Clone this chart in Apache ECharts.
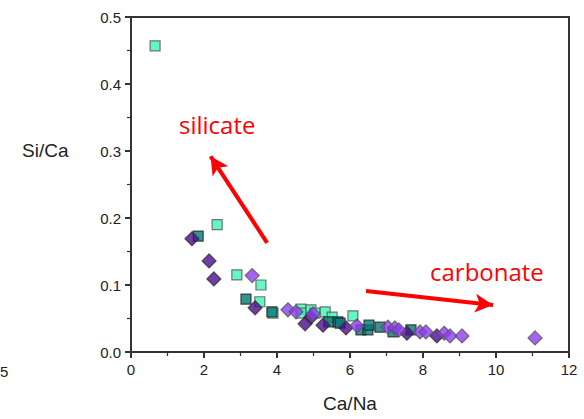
<!DOCTYPE html>
<html>
<head>
<meta charset="utf-8">
<script src="https://cdn.jsdelivr.net/npm/echarts@6/dist/echarts.min.js"></script>
<style>
  html, body { margin: 0; padding: 0; background: #fff; }
  #chart { width: 584px; height: 419px; }
</style>
</head>
<body>
<div id="chart"></div>
<script>
// ── data ────────────────────────────────────────────────────────────
const xTicks = [0, 2, 4, 6, 8, 10, 12];
const yTicks = [0.0, 0.1, 0.2, 0.3, 0.4, 0.5];

// light green squares
const greenSquares = [
  [0.66, 0.457], [2.36, 0.190], [2.90, 0.115], [3.56, 0.100], [3.53, 0.075],
  [3.89, 0.058], [4.66, 0.064], [4.66, 0.058], [4.93, 0.063], [5.04, 0.058],
  [5.32, 0.060], [5.51, 0.052], [6.08, 0.054]
];
// dark teal squares
const tealSquares = [
  [1.84, 0.173], [3.15, 0.079], [3.86, 0.060], [5.42, 0.045], [5.67, 0.045],
  [5.73, 0.043], [6.30, 0.033], [6.49, 0.033], [6.52, 0.040], [6.82, 0.037],
  [7.18, 0.030], [7.67, 0.033]
];
// dark purple diamonds
const darkDiamonds = [
  [1.67, 0.169], [2.14, 0.136], [2.27, 0.109], [3.40, 0.066], [4.77, 0.042],
  [4.93, 0.052], [5.26, 0.040], [5.89, 0.036], [7.56, 0.028], [8.38, 0.024]
];
// medium purple diamonds
const lightDiamonds = [
  [3.32, 0.114], [4.30, 0.063], [4.52, 0.060], [4.99, 0.057], [6.19, 0.039],
  [7.04, 0.037], [7.23, 0.036], [7.34, 0.033], [7.92, 0.030], [8.08, 0.030],
  [8.58, 0.028], [8.74, 0.024], [9.07, 0.024], [11.07, 0.021]
];

// annotation arrows (data space)
const silicateArrow = [[3.73, 0.163], [2.18, 0.292]];
const carbonateArrow = [[6.44, 0.091], [9.92, 0.070]];

// ── chart ──────────────────────────────────────────────────────────
const chart = echarts.init(document.getElementById('chart'), null, { renderer: 'svg' });

const FONT = '"Liberation Sans", Arial, sans-serif';
const LINE = '#333';   // frame / axis colour

function scatter(name, data, symbol, size, fill, border) {
  return {
    name, type: 'scatter', data, symbol, symbolSize: size,
    itemStyle: { color: fill, borderColor: border, borderWidth: 1.2 }
  };
}

// arrows ride on the last scatter series as a markLine
const arrows = {
  silent: true, animation: false,
  symbol: ['none', 'arrow'], symbolSize: [14, 18],
  label: { show: false },
  lineStyle: { color: '#ff0000', width: 4, type: 'solid' },
  data: [
    [{ coord: silicateArrow[0] }, { coord: silicateArrow[1] }],
    [{ coord: carbonateArrow[0] }, { coord: carbonateArrow[1] }]
  ]
};

function axis(range, extra) {
  return Object.assign({
    type: 'value', min: range[0], max: range[range.length - 1],
    interval: range[1] - range[0],
    axisLine: { show: true, lineStyle: { color: LINE, width: 2 } },
    axisTick: { show: true, length: 6, lineStyle: { color: LINE, width: 2 } },
    minorTick: { show: true, splitNumber: 2, length: 4, lineStyle: { color: LINE, width: 1.2 } },
    splitLine: { show: false }
  }, extra);
}

const purple = scatter('purple', lightDiamonds, 'diamond', 14, '#8d3cf0', '#555');
purple.markLine = arrows;

chart.setOption({
  animation: false,
  grid: {
    left: 131, right: 15, top: 17, bottom: 67,
    show: true, borderColor: LINE, borderWidth: 2
  },
  xAxis: axis(xTicks, {
    name: 'Ca/Na', nameLocation: 'middle', nameGap: 42,
    nameTextStyle: { fontFamily: FONT, fontSize: 19, color: '#222' },
    axisLabel: { margin: 10, fontFamily: FONT, fontSize: 15, color: '#222' }
  }),
  yAxis: axis(yTicks, {
    axisLabel: { margin: 10, fontFamily: FONT, fontSize: 15, color: '#222',
      formatter: v => v.toFixed(1) }
  }),
  series: [
    scatter('green', greenSquares, 'rect', 10, '#3ff5b4', '#555'),
    scatter('teal', tealSquares, 'rect', 10, '#047878', '#222'),
    scatter('dark purple', darkDiamonds, 'diamond', 14, '#4b0c8c', '#333'),
    purple
  ],
  graphic: [
    { type: 'text', left: 22, top: 141,
      style: { text: 'Si/Ca', font: '19px ' + FONT, fill: '#222' } },
    { type: 'text', left: 0, top: 364,
      style: { text: '5', font: '15px ' + FONT, fill: '#222' } },
    { type: 'text', left: 179, top: 112,
      style: { text: 'silicate', font: '24px "Open Sans", "Noto Sans", sans-serif', fill: '#ff0000' } },
    { type: 'text', left: 430, top: 259,
      style: { text: 'carbonate', font: '24px "Open Sans", "Noto Sans", sans-serif', fill: '#ff0000' } }
  ]
});
</script>
</body>
</html>
